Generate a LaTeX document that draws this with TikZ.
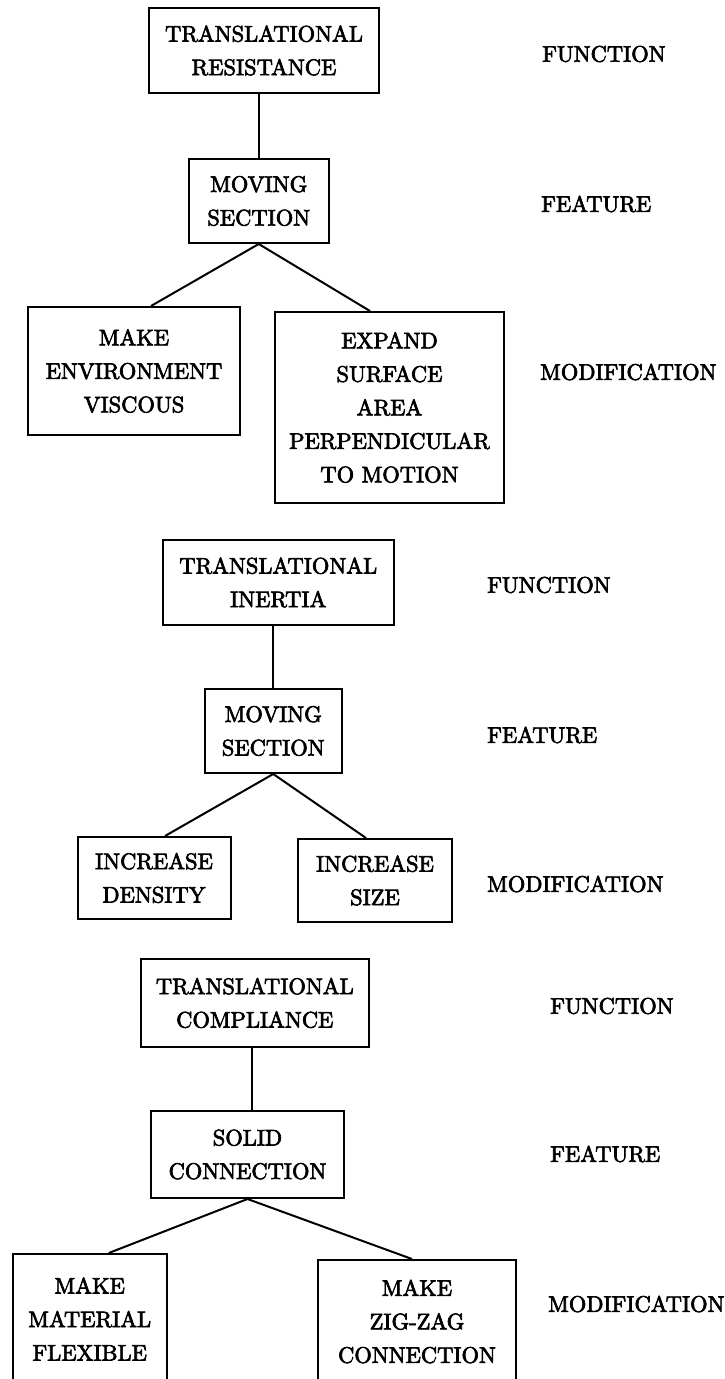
\documentclass[tikz,border=0pt]{standalone}
\usepackage{fontspec}
\usetikzlibrary{calc}
\newfontfamily\dfont{lmroman10-regular.otf}[FakeBold=3]
\begin{document}
\begin{tikzpicture}[x=1pt,y=-1pt,
  box/.style={draw, line width=2pt, rectangle, inner sep=0pt, align=center,
    font=\dfont\fontsize{22.5}{33.5}\selectfont},
  lab/.style={anchor=west, inner sep=0pt, font=\dfont\fontsize{22.5}{33.5}\selectfont},
  conn/.style={line width=2pt}]
\useasboundingbox (0,0) rectangle (724,1379);
\clip (0,0) rectangle (724,1379);
% ---------------- section 1
\node[box, minimum width=230pt, minimum height=85pt] (tr) at (264,50.5) {TRANSLATIONAL\\RESISTANCE};
\node[box, minimum width=139.5pt, minimum height=84pt] (ms1) at (258.75,201) {MOVING\\SECTION};
\node[box, minimum width=212pt, minimum height=128pt] (mev) at (134,371) {MAKE\\ENVIRONMENT\\VISCOUS};
\node[box, minimum width=229pt, minimum height=191pt] (exp) at (389.5,407.5) {EXPAND\\SURFACE\\AREA\\PERPENDICULAR\\TO MOTION};
\node[lab] (f1) at (542,54) {FUNCTION};
\node[lab] (e1) at (541,204) {FEATURE};
\node[lab] (m1) at (540,372) {MODIFICATION};
\draw[conn] (ms1.north |- tr.south) -- (ms1.north);
\draw[conn] (ms1.south) -- ($(mev.north)+(17,0)$);
\draw[conn] (ms1.south) -- ($(exp.north)+(-19.5,0)$);
% ---------------- section 2
\node[box, minimum width=230.5pt, minimum height=85pt] (ti) at (278.25,582.5) {TRANSLATIONAL\\INERTIA};
\node[box, minimum width=136.5pt, minimum height=84pt] (ms2) at (273.25,731) {MOVING\\SECTION};
\node[box, minimum width=153pt, minimum height=82pt] (id) at (154,878) {INCREASE\\DENSITY};
\node[box, minimum width=154pt, minimum height=83pt] (is) at (375,880.5) {INCREASE\\SIZE};
\node[lab] (f2) at (487,585) {FUNCTION};
\node[lab] (e2) at (487,735) {FEATURE};
\node[lab] (m2) at (487,884) {MODIFICATION};
\draw[conn] (ms2.north |- ti.south) -- (ms2.north);
\draw[conn] (ms2.south) -- ($(id.north)+(11,0)$);
\draw[conn] (ms2.south) -- ($(is.north)+(-9,0)$);
% ---------------- section 3
\node[box, minimum width=228.4pt, minimum height=88pt] (tc) at (254.8,1003) {TRANSLATIONAL\\COMPLIANCE};
\node[box, minimum width=193pt, minimum height=87pt] (sc) at (247.5,1154.5) {SOLID\\CONNECTION};
\node[box, minimum width=154.5pt, minimum height=130pt] (mmf) at (89.75,1319) {MAKE\\MATERIAL\\FLEXIBLE};
\node[box, minimum width=198pt, minimum height=123pt] (mzc) at (417,1321.5) {MAKE\\ZIG-ZAG\\CONNECTION};
\node[lab] (f3) at (550,1006) {FUNCTION};
\node[lab] (e3) at (550,1154) {FEATURE};
\node[lab] (m3) at (548,1304) {MODIFICATION};
\coordinate (tcs) at ($(sc.north)+(4.5,0)$);
\draw[conn] (tcs |- tc.south) -- (tcs);
\draw[conn] (sc.south) -- ($(mmf.north)+(19,0)$);
\draw[conn] (sc.south) -- ($(mzc.north)+(-5,0)$);
\end{tikzpicture}
\end{document}
